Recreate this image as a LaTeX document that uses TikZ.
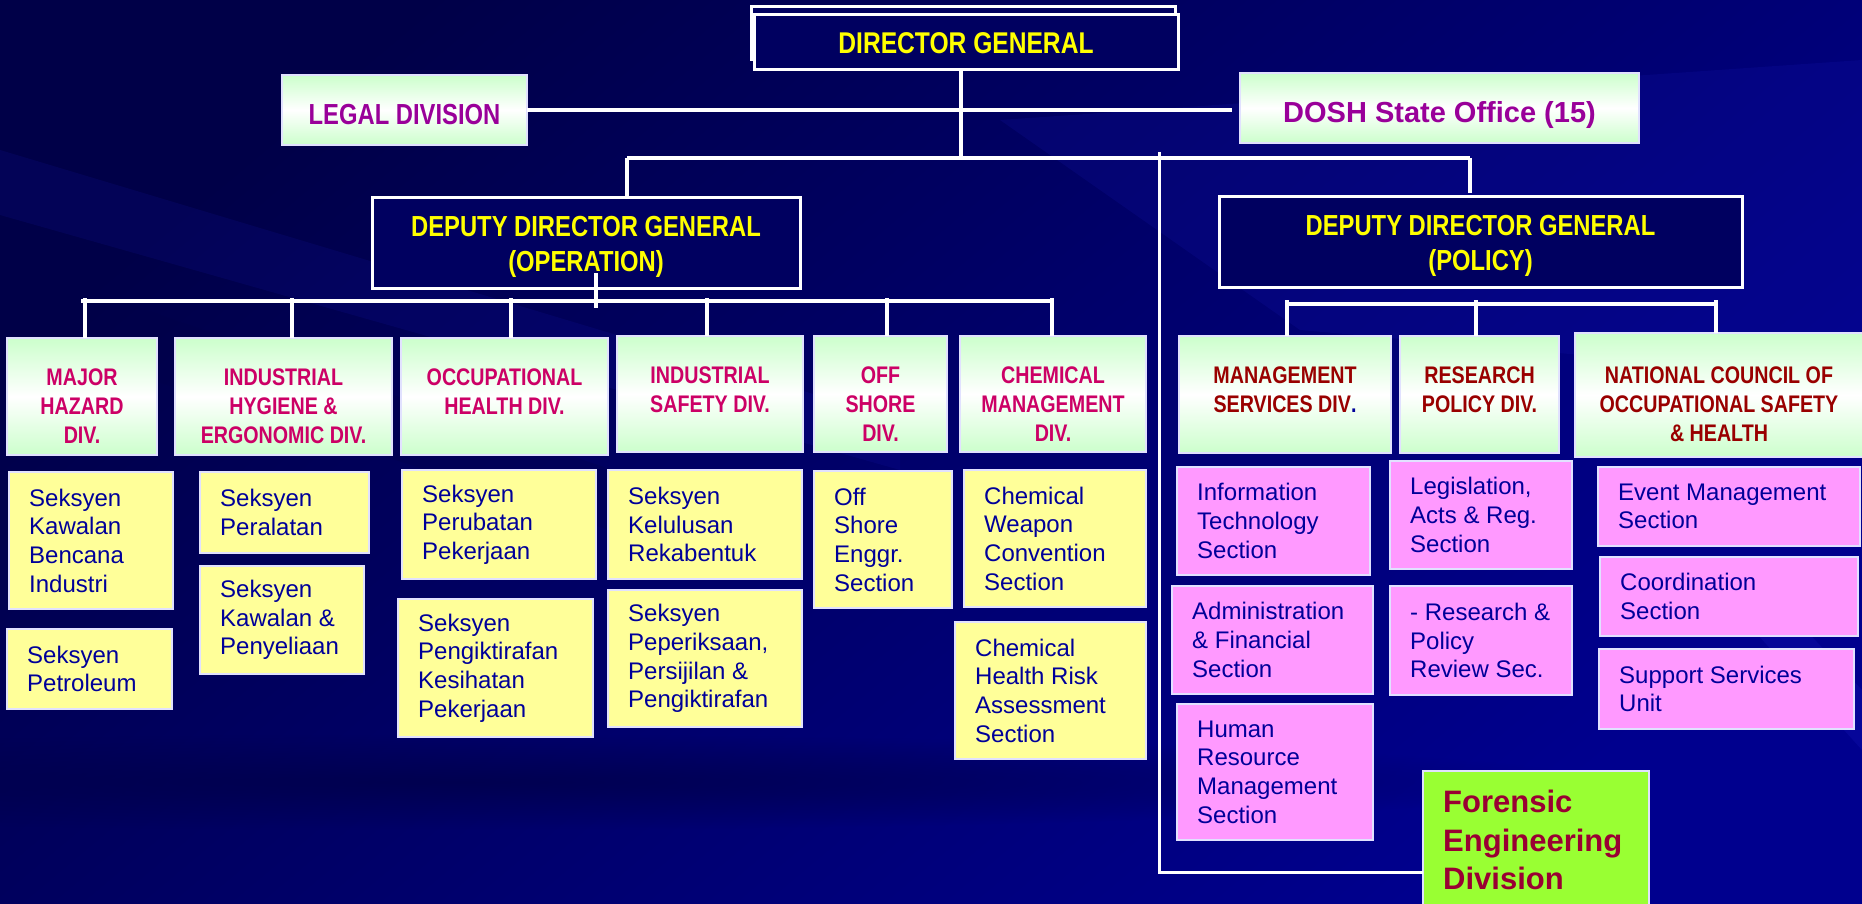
\documentclass[tikz,border=0pt]{standalone}
\usepackage{fontspec}
\setmainfont{Liberation Sans}
\newfontfamily\narrowfont{Liberation Sans}[FakeStretch=0.82]
\usetikzlibrary{calc,fadings}
\definecolor{bgMain}{RGB}{0,0,142}
\definecolor{bgDark}{RGB}{0,0,72}
\definecolor{bgLight}{RGB}{30,30,200}
\definecolor{boxNavy}{RGB}{0,0,96}
\definecolor{bordL}{RGB}{225,225,255}
\definecolor{grTop}{RGB}{204,255,204}
\definecolor{secYel}{RGB}{255,255,153}
\definecolor{secPink}{RGB}{255,153,255}
\definecolor{feGreen}{RGB}{153,255,51}
\definecolor{divRed}{RGB}{204,0,102}
\definecolor{mgRed}{RGB}{153,0,0}
\definecolor{feRed}{RGB}{153,0,51}
\definecolor{legPurp}{RGB}{153,0,153}
\definecolor{secBlue}{RGB}{0,0,153}
\definecolor{dgYel}{RGB}{255,255,0}
\tikzfading[name=ellfade, inner color=transparent!25, outer color=transparent!100]
\newcommand\placebox[6]{\node[bxbase,#1,minimum width={(#5)-(#3)},minimum height={(#6)-(#4)}] (#2) at (#3,#4) {};}
\newcommand\divlabel[3][divtext]{\node[#1,anchor=north] (#2t) at ($(#2.north)+(0,31)$) {#3};}
\newcommand\seclabel[2]{\node[sectext,anchor=west] (#1t) at ($(#1.west)+(20,0)$) {#2};}
\begin{document}
\begin{tikzpicture}[x=1pt,y=-1pt,
  conn/.style={draw=white,line width=4pt},
  bxbase/.style={anchor=north west,inner sep=0pt,outer sep=0pt},
  navybox/.style={fill=boxNavy,draw=white,line width=3pt},
  greenbox/.style={top color=grTop,bottom color=grTop,middle color=white,draw=bordL,line width=2.5pt},
  yelbox/.style={fill=secYel,draw=bordL,line width=2pt},
  pinkbox/.style={fill=secPink,draw=bordL,line width=2pt},
  febox/.style={fill=feGreen,draw=bordL,line width=2pt},
  toptext/.style={inner sep=0pt,align=center,text=dgYel,font=\narrowfont\bfseries\fontsize{29}{35}\selectfont},
  sidetext/.style={inner sep=0pt,align=center,text=legPurp,font=\narrowfont\bfseries\fontsize{29}{35}\selectfont},
  divtext/.style={inner sep=0pt,align=center,text=divRed,font=\narrowfont\bfseries\fontsize{24}{29}\selectfont},
  mgtext/.style={inner sep=0pt,align=center,text=mgRed,font=\narrowfont\bfseries\fontsize{24}{29}\selectfont},
  sectext/.style={inner sep=0pt,align=left,text=secBlue,font=\fontsize{24}{28.7}\selectfont},
  fetext/.style={inner sep=0pt,align=left,text=feRed,font=\bfseries\fontsize{31}{38.5}\selectfont},
]
\useasboundingbox (0,0) rectangle (1862,904);
\clip (0,0) rectangle (1862,904);
% background
\fill[bgMain] (0,0) rectangle (1862,904);
\shade[top color=bgDark, bottom color=bgMain, shading angle=40] (0,0) rectangle (1862,904);
\fill[bgLight, opacity=0.12] (0,150) -- (0,215) -- (900,470) -- (900,420) -- cycle;
\fill[bgDark, opacity=0.25] (0,260) -- (0,330) -- (700,560) -- (700,500) -- cycle;
\fill[bgLight, opacity=0.14] (1000,120) -- (1862,60) -- (1862,380) -- (1300,330) -- cycle;
\fill[bgLight, opacity=0.20] (1690,560) -- (1740,560) -- (1862,690) -- (1862,750) -- cycle;
\fill[bgDark, path fading=ellfade] (450,782) ellipse [x radius=1150, y radius=48];

% top level
\placebox{navybox}{dgback}{751}{7}{1175}{60}
\placebox{navybox}{dg}{754}{15}{1178}{70}
\node[toptext,font=\narrowfont\bfseries\fontsize{30}{36}\selectfont] (dgt) at ($(dg.center)+(0,1)$) {DIRECTOR GENERAL};
\placebox{greenbox}{legal}{282}{75}{527}{145}
\node[sidetext] (legalt) at ($(legal.center)+(0,5)$) {LEGAL DIVISION};
\placebox{greenbox}{dosh}{1240}{73}{1639}{143}
\node[sidetext,font=\bfseries\fontsize{29}{35}\selectfont] (dosht) at ($(dosh.center)+(0,7)$) {DOSH State Office (15)};
\placebox{navybox}{ddgop}{372}{198}{800}{288}
\node[toptext] (ddgopt) at ($(ddgop.center)+(0,4)$) {DEPUTY DIRECTOR GENERAL\\(OPERATION)};
\placebox{navybox}{ddgp}{1219}{197}{1742}{287}
\node[toptext] (ddgpt) at ($(ddgp.center)+(0,4)$) {DEPUTY DIRECTOR GENERAL\\(POLICY)};

% divisions
\placebox{greenbox}{mh}{7}{338}{157}{455}
\divlabel{mh}{MAJOR\\HAZARD\\DIV.}
\placebox{greenbox}{ih}{175}{338}{392}{455}
\divlabel{ih}{INDUSTRIAL\\HYGIENE \&\\ERGONOMIC DIV.}
\placebox{greenbox}{oh}{401}{338}{608}{455}
\divlabel{oh}{OCCUPATIONAL\\HEALTH DIV.}
\placebox{greenbox}{is}{617}{336}{803}{452}
\divlabel{is}{INDUSTRIAL\\SAFETY DIV.}
\placebox{greenbox}{os}{814}{336}{947}{452}
\divlabel{os}{OFF\\SHORE\\DIV.}
\placebox{greenbox}{cm}{960}{336}{1146}{452}
\divlabel{cm}{CHEMICAL\\MANAGEMENT\\DIV.}
\placebox{greenbox}{ms}{1179}{336}{1391}{453}
\divlabel[mgtext]{ms}{MANAGEMENT\\SERVICES DIV\textcolor{secBlue}{.}}
\placebox{greenbox}{rp}{1400}{336}{1559}{453}
\divlabel[mgtext]{rp}{RESEARCH\\POLICY DIV.}
\placebox{greenbox}{nc}{1575}{333}{1866}{457}
\node[mgtext,anchor=north] (nct) at (1719,367) {NATIONAL COUNCIL OF\\OCCUPATIONAL SAFETY\\\& HEALTH};

% sections (yellow)
\placebox{yelbox}{s1}{9}{472}{173}{609}
\seclabel{s1}{Seksyen\\Kawalan\\Bencana\\Industri}
\placebox{yelbox}{s2}{7}{629}{172}{709}
\seclabel{s2}{Seksyen\\Petroleum}
\placebox{yelbox}{s3}{200}{472}{369}{553}
\seclabel{s3}{Seksyen\\Peralatan}
\placebox{yelbox}{s4}{200}{566}{364}{674}
\seclabel{s4}{Seksyen\\Kawalan \&\\Penyeliaan}
\placebox{yelbox}{s5}{402}{470}{596}{579}
\seclabel{s5}{Seksyen\\Perubatan\\Pekerjaan}
\placebox{yelbox}{s6}{398}{599}{593}{737}
\seclabel{s6}{Seksyen\\Pengiktirafan\\Kesihatan\\Pekerjaan}
\placebox{yelbox}{s7}{608}{470}{802}{579}
\seclabel{s7}{Seksyen\\Kelulusan\\Rekabentuk}
\placebox{yelbox}{s8}{608}{590}{802}{727}
\seclabel{s8}{Seksyen\\Peperiksaan,\\Persijilan \&\\Pengiktirafan}
\placebox{yelbox}{s9}{814}{471}{952}{608}
\seclabel{s9}{Off\\Shore\\Enggr.\\Section}
\placebox{yelbox}{s10}{964}{470}{1146}{607}
\seclabel{s10}{Chemical\\Weapon\\Convention\\Section}
\placebox{yelbox}{s11}{955}{622}{1146}{759}
\seclabel{s11}{Chemical\\Health Risk\\Assessment\\Section}

% sections (pink)
\placebox{pinkbox}{p1}{1177}{467}{1370}{575}
\seclabel{p1}{Information\\Technology\\Section}
\placebox{pinkbox}{p2}{1172}{586}{1373}{694}
\seclabel{p2}{Administration\\\& Financial\\Section}
\placebox{pinkbox}{p3}{1177}{704}{1373}{840}
\seclabel{p3}{Human\\Resource\\Management\\Section}
\placebox{pinkbox}{p4}{1390}{461}{1572}{569}
\seclabel{p4}{Legislation,\\Acts \& Reg.\\Section}
\placebox{pinkbox}{p5}{1390}{586}{1572}{695}
\seclabel{p5}{- Research \&\\Policy\\Review Sec.}
\placebox{pinkbox}{p6}{1598}{467}{1860}{546}
\seclabel{p6}{Event Management\\Section}
\placebox{pinkbox}{p7}{1600}{557}{1858}{636}
\seclabel{p7}{Coordination\\Section}
\placebox{pinkbox}{p8}{1599}{649}{1854}{729}
\seclabel{p8}{Support Services\\Unit}

% forensic
\placebox{febox}{fe}{1423}{771}{1649}{930}
\node[fetext,anchor=north west] (fet) at (1443,790) {Forensic\\Engineering\\Division};

% connectors
\coordinate (dgdrop) at (961,158);
\coordinate (topbusL) at (627,158);
\coordinate (topbusR) at (1470,158);
\draw[conn] (dgdrop |- dg.south) -- (dgdrop);
\draw[conn,shorten >=8pt] (legal.east) -- (legal.east -| dosh.west);
\draw[conn] (topbusL) -- (topbusR);
\draw[conn] (topbusL) -- (topbusL |- ddgop.north);
\draw[conn,shorten >=4pt] (topbusR) -- (topbusR |- ddgp.north);
\coordinate (fetop) at (1159,152);
\draw[draw=white,line width=3pt] (fetop) |- ($(fe.north west)+(0,101)$);

\coordinate (opbusL) at (81,301);
\coordinate (opbusR) at (1052,301);
\draw[conn] ($(ddgop.south)+(10,-15)$) -- ++(0,35);
\draw[conn] (opbusL) -- (opbusR);
\foreach \n/\x in {mh/85, ih/292, oh/511, is/707, os/887, cm/1052}
  \draw[conn] (\x,298) -- (\x,298 |- \n.north);

\coordinate (pbusL) at (1286,304);
\coordinate (pbusR) at (1716,304);
\draw[conn] (pbusL) -- (pbusR);
\foreach \n/\x in {ms/1287, rp/1476, nc/1716}
  \draw[conn] (\x,300) -- (\x,300 |- \n.north);
\end{tikzpicture}
\end{document}
